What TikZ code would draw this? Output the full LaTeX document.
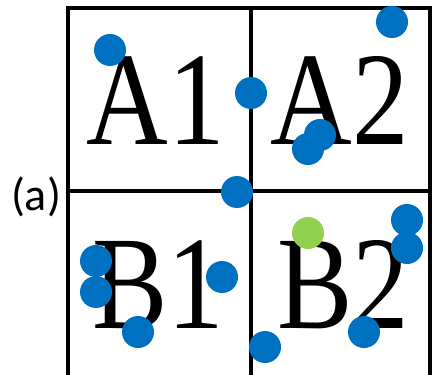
\documentclass[tikz,border=0pt]{standalone}
\usepackage{fontspec}
\setmainfont{Liberation Serif}
\newfontfamily\tagfont{Carlito}
\usepackage{tikz}
\usetikzlibrary{positioning}
\definecolor{dotblue}{HTML}{0070C0}
\definecolor{dotgreen}{HTML}{92D050}

\begin{document}
\begin{tikzpicture}[
    x=1pt, y=-1pt,
    grid/.style={line width=3.5pt},
    cell/.style={anchor=base, inner sep=0pt, font=\fontsize{133}{133}\selectfont},
    dot/.style={circle, fill=#1, minimum size=32pt, inner sep=0pt},
    dot/.default=dotblue,
  ]
  \useasboundingbox (0,0) rectangle (438,374);
  \clip (0,0) rectangle (438,374);

  % Grid (open at the bottom)
  \draw[grid] (68,380) |- (430,8) -- (430,380);
  \draw[grid] (68,191) -- (430,191);
  \draw[grid] (251,8) -- (251,380);

  % Cell labels
  \node[cell] (a1) at (156,145) {\scalebox{0.85}[1]{A1}};
  \node[cell] (a2) at (340,145) {\scalebox{0.85}[1]{A2}};
  \node[cell] (b1) at (158,328) {\scalebox{0.85}[1]{B1}};
  \node[cell] (b2) at (343,328) {\scalebox{0.85}[1]{B2}};

  % Panel tag
  \node[font=\tagfont\fontsize{46}{46}\selectfont, inner sep=0pt] (tag) at (36,197) {(a)};

  % Points
  \node[dot] (p1)  at (110,50)  {};
  \node[dot] (p2)  at (392,22)  {};
  \node[dot] (p3)  at (251,93)  {};
  \node[dot] (p4)  at (320,135) {};
  \node[dot] (p5)  at (308,149) {};
  \node[dot] (p6)  at (237,192) {};
  \node[dot=dotgreen] (p7) at (308,233) {};
  \node[dot] (p8)  at (407,220) {};
  \node[dot] (p9)  at (407,248) {};
  \node[dot] (p10) at (96,261)  {};
  \node[dot] (p11) at (96,292)  {};
  \node[dot] (p12) at (222,277) {};
  \node[dot] (p13) at (138,332) {};
  \node[dot] (p14) at (265,347) {};
  \node[dot] (p15) at (364,332) {};
\end{tikzpicture}
\end{document}
